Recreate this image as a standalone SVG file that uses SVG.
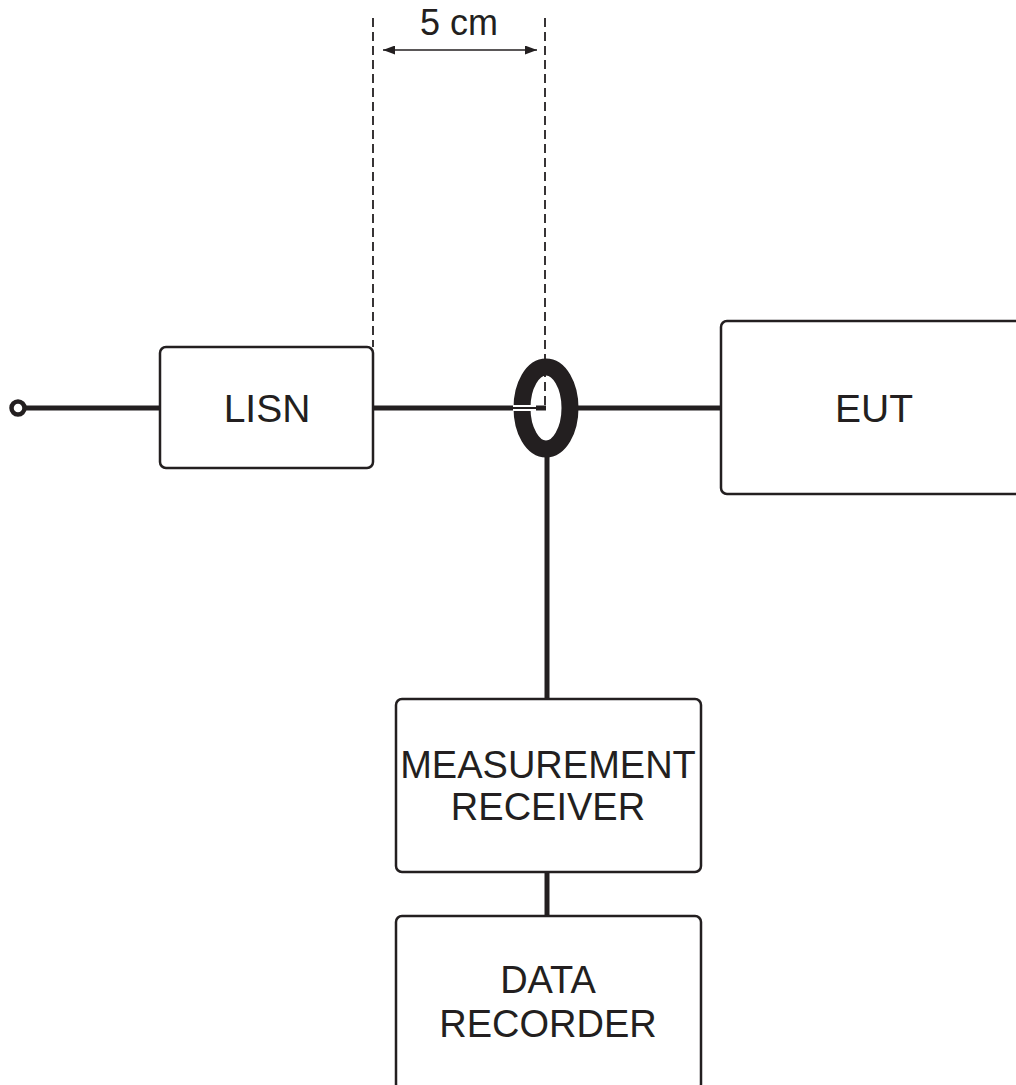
<svg xmlns="http://www.w3.org/2000/svg" width="1016" height="1085" viewBox="0 0 1016 1085">
<defs>
<style>
.box{fill:#fff;stroke:#231f20;stroke-width:2.5}
.lbl{font-family:"Liberation Sans",Arial,sans-serif;fill:#231f20;text-anchor:middle}
.wire{stroke:#231f20;stroke-width:5;fill:none}
.dash{stroke:#231f20;stroke-width:1.8;stroke-dasharray:9 5;fill:none}
</style>
<marker id="ah" viewBox="0 0 12 9" refX="12" refY="4.5" markerWidth="12" markerHeight="9" markerUnits="userSpaceOnUse" orient="auto-start-reverse">
<path d="M0,0 L12,4.5 L0,9 Z" fill="#231f20"/>
</marker>
</defs>
<rect width="1016" height="1085" fill="#fff"/>
<g id="connectors">
<line class="wire" x1="24" y1="408" x2="160" y2="408"/>
<line class="wire" x1="373" y1="408" x2="514" y2="408"/>
<line class="wire" x1="578" y1="408" x2="721" y2="408"/>
<line class="wire" x1="547" y1="455" x2="547" y2="699"/>
<line class="wire" x1="547" y1="872" x2="547" y2="916"/>
<line class="dash" x1="373" y1="18" x2="373" y2="347"/>
<line class="dash" x1="545" y1="18" x2="545" y2="408"/>
<line x1="383" y1="50" x2="537" y2="50" stroke="#231f20" stroke-width="1.6" marker-start="url(#ah)" marker-end="url(#ah)"/>
</g>
<g id="terminal">
<circle cx="18" cy="408" r="6.5" fill="#fff" stroke="#231f20" stroke-width="4.5"/>
</g>
<g id="current-probe">
<ellipse cx="546" cy="408" rx="24" ry="41" fill="none" stroke="#231f20" stroke-width="17"/>
<line x1="513" y1="408" x2="535" y2="408" stroke="#fff" stroke-width="6"/>
<line x1="512" y1="408" x2="536" y2="408" stroke="#231f20" stroke-width="2"/>
<line x1="536" y1="408" x2="546" y2="408" stroke="#231f20" stroke-width="5"/>
</g>
<g id="dimension-label">
<text class="lbl" x="459" y="35" font-size="36">5 cm</text>
</g>
<g id="lisn">
<rect class="box" x="160" y="347" width="213" height="121" rx="6"/>
<text class="lbl" x="267" y="422" font-size="39">LISN</text>
</g>
<g id="eut">
<rect class="box" x="721" y="321" width="320" height="173" rx="6"/>
<text class="lbl" x="874" y="422" font-size="39">EUT</text>
</g>
<g id="measurement-receiver">
<rect class="box" x="396" y="699" width="305" height="173" rx="6"/>
<text class="lbl" x="548" y="778" font-size="38">MEASUREMENT</text>
<text class="lbl" x="548" y="820" font-size="38">RECEIVER</text>
</g>
<g id="data-recorder">
<rect class="box" x="396" y="916" width="305" height="174" rx="6"/>
<text class="lbl" x="548" y="993" font-size="38">DATA</text>
<text class="lbl" x="548" y="1037" font-size="38">RECORDER</text>
</g>
</svg>
